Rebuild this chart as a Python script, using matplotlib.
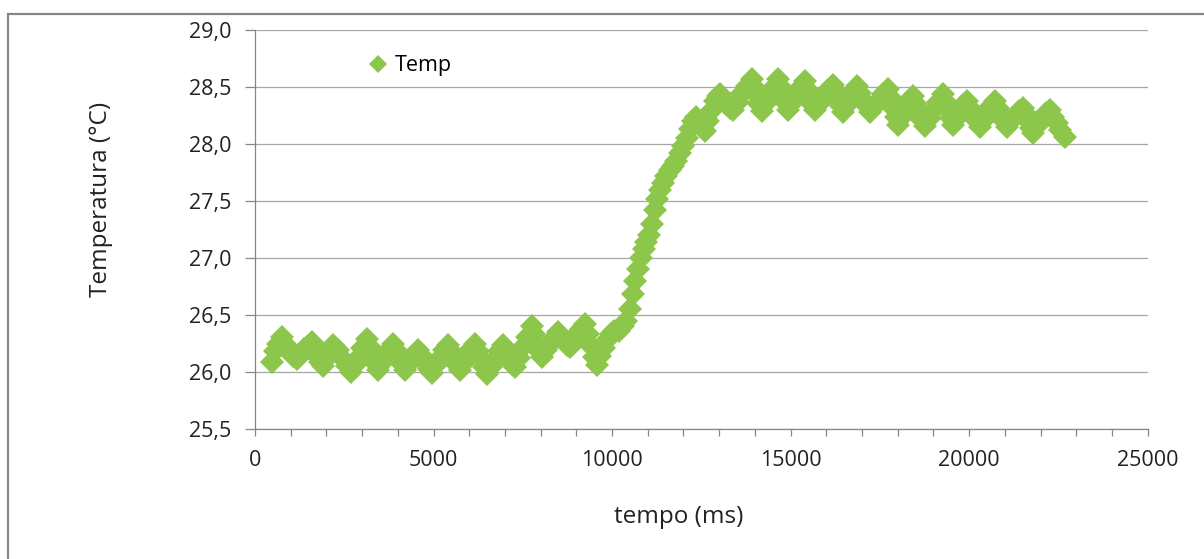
import numpy as np
import matplotlib as mpl
mpl.use('Agg')
import matplotlib.pyplot as plt
from matplotlib.patches import Rectangle
from matplotlib.ticker import MultipleLocator, FuncFormatter

# data (time in ms, temperature in deg C)
tempo = [
    470, 560, 650, 750, 850, 960, 1060, 1170, 1270, 1380, 1480, 1590,
    1670, 1750, 1830, 1900, 1980, 2060, 2130, 2190, 2320, 2450, 2580, 2700,
    2800, 2900, 3000, 3130, 3210, 3290, 3370, 3450, 3560, 3660, 3770, 3870,
    3960, 4050, 4130, 4200, 4300, 4390, 4480, 4570, 4680, 4780, 4880, 4960,
    5060, 5170, 5280, 5400, 5490, 5580, 5660, 5740, 5850, 5950, 6060, 6160,
    6240, 6320, 6410, 6490, 6600, 6710, 6830, 6950, 7030, 7120, 7200, 7280,
    7390, 7500, 7620, 7750, 7820, 7890, 7960, 8030, 8140, 8250, 8370, 8490,
    8570, 8650, 8740, 8820, 8920, 9020, 9130, 9240, 9320, 9400, 9490, 9570,
    9670, 9770, 9870, 9960, 10060, 10200, 10300, 10400, 10500, 10580, 10650, 10720,
    10800, 10880, 10960, 11040, 11120, 11200, 11270, 11350, 11430, 11520, 11610, 11700,
    11800, 11900, 12000, 12090, 12180, 12260, 12350, 12440, 12530, 12610, 12700, 12790,
    12880, 12960, 13020, 13110, 13200, 13300, 13390, 13520, 13650, 13780, 13910, 13980,
    14050, 14120, 14190, 14300, 14420, 14540, 14650, 14720, 14790, 14860, 14930, 15050,
    15170, 15290, 15400, 15470, 15540, 15610, 15680, 15810, 15940, 16060, 16190, 16260,
    16330, 16400, 16470, 16570, 16670, 16760, 16850, 16940, 17030, 17130, 17220, 17350,
    17480, 17600, 17730, 17800, 17870, 17940, 18010, 18110, 18220, 18320, 18430, 18510,
    18600, 18680, 18760, 18890, 19010, 19140, 19270, 19340, 19410, 19480, 19550, 19650,
    19750, 19840, 19940, 20030, 20120, 20210, 20300, 20410, 20510, 20620, 20720, 20800,
    20890, 20970, 21060, 21170, 21280, 21400, 21510, 21580, 21650, 21720, 21790, 21910,
    22030, 22150, 22260, 22350, 22450, 22550, 22680,
]
temp = [
    26.09, 26.18, 26.25, 26.31, 26.25, 26.19, 26.14, 26.11, 26.15, 26.20, 26.23, 26.26,
    26.20, 26.14, 26.09, 26.05, 26.11, 26.17, 26.21, 26.24, 26.19, 26.12, 26.05, 26.00,
    26.06, 26.13, 26.21, 26.29, 26.22, 26.15, 26.08, 26.02, 26.08, 26.15, 26.20, 26.25,
    26.19, 26.13, 26.07, 26.02, 26.07, 26.12, 26.16, 26.19, 26.14, 26.08, 26.03, 25.99,
    26.06, 26.12, 26.19, 26.24, 26.18, 26.12, 26.06, 26.02, 26.08, 26.14, 26.20, 26.25,
    26.18, 26.11, 26.04, 25.98, 26.04, 26.11, 26.18, 26.24, 26.18, 26.12, 26.07, 26.04,
    26.12, 26.22, 26.31, 26.40, 26.33, 26.25, 26.18, 26.13, 26.19, 26.25, 26.30, 26.35,
    26.31, 26.27, 26.24, 26.22, 26.27, 26.33, 26.38, 26.42, 26.33, 26.23, 26.13, 26.06,
    26.14, 26.21, 26.28, 26.33, 26.36, 26.36, 26.40, 26.45, 26.55, 26.68, 26.80, 26.90,
    27.00, 27.08, 27.14, 27.20, 27.30, 27.42, 27.52, 27.60, 27.66, 27.72, 27.77, 27.81,
    27.85, 27.92, 27.98, 28.05, 28.13, 28.20, 28.24, 28.20, 28.15, 28.11, 28.20, 28.30,
    28.38, 28.42, 28.44, 28.40, 28.35, 28.32, 28.30, 28.37, 28.45, 28.51, 28.57, 28.50,
    28.42, 28.35, 28.29, 28.36, 28.43, 28.50, 28.57, 28.50, 28.43, 28.36, 28.30, 28.36,
    28.43, 28.50, 28.55, 28.48, 28.41, 28.35, 28.30, 28.36, 28.42, 28.47, 28.52, 28.46,
    28.40, 28.33, 28.28, 28.34, 28.41, 28.46, 28.51, 28.45, 28.39, 28.33, 28.28, 28.33,
    28.39, 28.44, 28.48, 28.40, 28.32, 28.24, 28.17, 28.24, 28.31, 28.37, 28.42, 28.35,
    28.28, 28.21, 28.16, 28.23, 28.30, 28.37, 28.44, 28.37, 28.30, 28.23, 28.17, 28.23,
    28.29, 28.34, 28.38, 28.32, 28.26, 28.20, 28.15, 28.21, 28.27, 28.33, 28.38, 28.32,
    28.26, 28.20, 28.15, 28.20, 28.25, 28.29, 28.32, 28.26, 28.20, 28.14, 28.10, 28.16,
    28.22, 28.27, 28.30, 28.24, 28.18, 28.12, 28.06,
]
series_label = 'Temp'
x_label = 'tempo (ms)'
y_label = 'Temperatura (°C)'

GREEN = '#8CC64A'
GRAY = '#868686'
GRID = '#A6A6A6'
TEXT = '#222222'
W, H = 1204, 559

plt.rcParams['font.family'] = ['Open Sans', 'DejaVu Sans']
plt.rcParams['font.size'] = 15.5

fig = plt.figure(figsize=(W / 100, H / 100), dpi=100)
ax = fig.add_axes([255 / W, 1 - 429 / H, (1147.7 - 255) / W, (429 - 30) / H])

# outer chart border (runs off the right and bottom of the picture)
fig.patches.append(Rectangle((8 / W, -0.2), 1.2, 1.2 - 14 / H, transform=fig.transFigure,
                             fill=False, edgecolor=GRAY, linewidth=1.6))

ax.plot(tempo, temp, linestyle='none', marker='D', markersize=12.5,
        color=GREEN, markeredgewidth=0, label=series_label)

ax.set_xlim(0, 25000)
ax.set_ylim(25.5, 29.0)
ax.xaxis.set_major_locator(MultipleLocator(5000))
ax.xaxis.set_minor_locator(MultipleLocator(1000))
ax.yaxis.set_major_locator(MultipleLocator(0.5))
ax.yaxis.set_major_formatter(FuncFormatter(lambda v, p: f'{v:.1f}'.replace('.', ',')))

ax.grid(axis='y', color=GRID, linewidth=0.9)
ax.set_axisbelow(True)
for s in ['top', 'right']:
    ax.spines[s].set_visible(False)
for s in ['left', 'bottom']:
    ax.spines[s].set_color(GRAY)
    ax.spines[s].set_linewidth(0.9)

ax.tick_params(axis='y', direction='out', length=7, width=0.9, color=GRAY, pad=10, labelcolor=TEXT)
ax.tick_params(axis='x', which='both', direction='out', length=5, width=0.9, color=GRAY, pad=10,
               labelcolor=TEXT)

fig.text(101 / W, 1 - 199 / H, y_label, rotation=90, ha='center', va='center',
         color=TEXT, fontsize=17.5)
fig.text(679 / W, 1 - 517 / H, x_label, ha='center', va='center', color=TEXT, fontsize=17.5)

ax.legend(loc='center left', bbox_to_anchor=((367 - 255) / 892.7, (429 - 66) / 399),
          frameon=False, handlelength=1.0, handletextpad=0.3, borderpad=0,
          borderaxespad=0, markerscale=0.7)

fig.savefig('out.png', dpi=100)
